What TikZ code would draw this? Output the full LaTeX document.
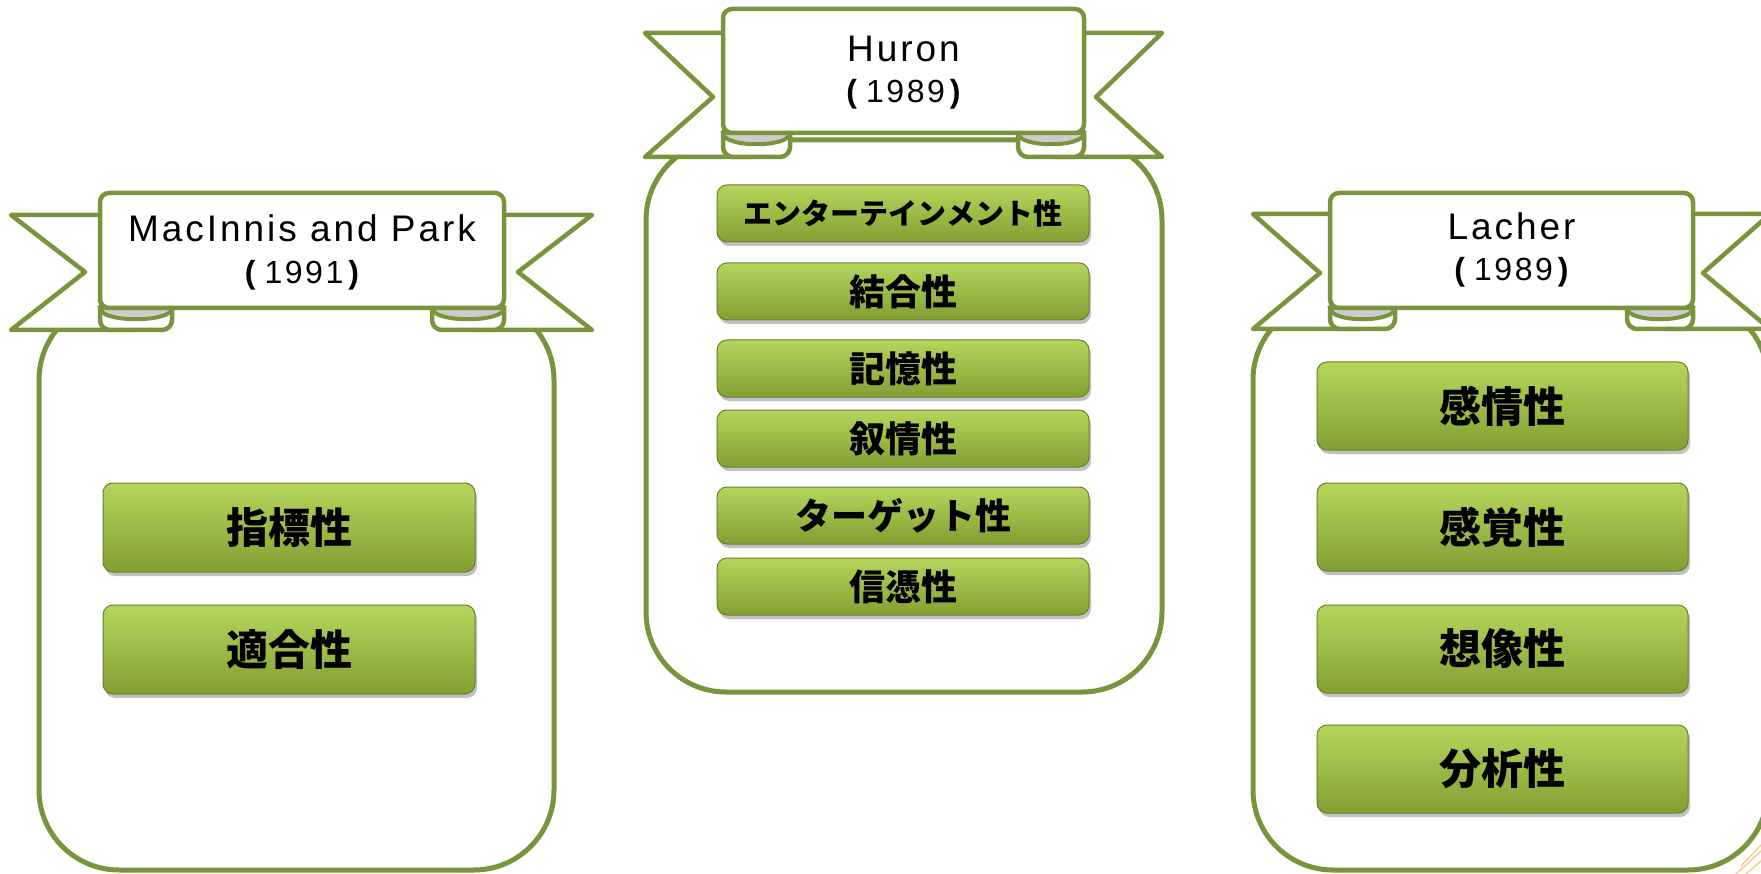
\documentclass[tikz,border=0pt]{standalone}
\usepackage{fontspec}
\setmainfont{Liberation Sans}[LetterSpace=8]
\newfontfamily\cjk{Noto Sans CJK JP}
\usetikzlibrary{shadows}
\definecolor{jargreen}{RGB}{120,148,60}
\definecolor{boxtop}{RGB}{180,214,92}
\definecolor{boxmid}{RGB}{158,194,72}
\definecolor{boxbot}{RGB}{130,160,50}
\definecolor{boxline}{RGB}{104,130,42}
\definecolor{curlgray}{RGB}{204,204,204}
\newcommand{\yr}[1]{{\bfseries(}\hspace{9pt}#1\hspace{5pt}{\bfseries)}}
\tikzset{
	jar/.style={draw=jargreen,line width=5pt,fill=white,rounded corners=80pt},
	tail/.style={draw=jargreen,line width=4.5pt,fill=white,line join=round},
	fold/.style={draw=jargreen,line width=4.5pt,fill=white,rounded corners=10pt},
	curl/.style={draw=jargreen,line width=4pt,fill=curlgray},
	banner/.style={draw=jargreen,line width=4.5pt,fill=white,rounded corners=9pt},
	authorline/.style={anchor=base,font=\fontsize{37}{37}\selectfont},
	yearline/.style={anchor=base,font=\fontsize{32}{32}\selectfont},
	trait/.style={rounded corners=10pt,draw=boxline,line width=1pt,
		top color=boxtop,middle color=boxmid,bottom color=boxbot,inner sep=0pt,
		minimum width=372pt,minimum height=88pt,
		font=\cjk\bfseries\fontsize{42}{42}\selectfont,
		drop shadow={shadow xshift=2pt,shadow yshift=-4pt,fill=black!40,opacity=.6}},
	small trait/.style={trait,minimum height=57pt,font=\cjk\bfseries\fontsize{36}{36}\selectfont}
}
\begin{document}
\begin{tikzpicture}[x=1pt,y=-1pt]
	\useasboundingbox (0,0) rectangle (1761,874);
	\clip (0,0) rectangle (1761,874);
	% jars
	\draw[jar] (39,300) rectangle (554,870);
	\draw[jar] (646,140) rectangle (1162,692);
	\draw[jar] (1253,300) rectangle (1768,870);
	% MacInnis and Park ribbon
	\draw[tail] (100,215) -- (11,215) -- (85,272) -- (11,330) -- (130,330) -- (130,215) -- cycle;
	\draw[tail] (504,215) -- (592,215) -- (518,272) -- (592,330) -- (474,330) -- (474,215) -- cycle;
	\draw[fold] (100,300) rectangle (172,330);
	\draw[fold] (432,300) rectangle (504,330);
	\draw[curl] (100,308) .. controls (100,323) and (172,323) .. (172,308) -- cycle;
	\draw[curl] (432,308) .. controls (432,323) and (504,323) .. (504,308) -- cycle;
	\draw[banner] (100,193) rectangle (504,308);
	\node[authorline](mt) at (302,242) {MacInnis and Park};
	\node[yearline](my) at (302,284) {\yr{1991}};
	% Huron ribbon
	\draw[tail] (723,33) -- (645,33) -- (713,97) -- (645,157) -- (753,157) -- (753,33) -- cycle;
	\draw[tail] (1084,33) -- (1162,33) -- (1096,97) -- (1162,157) -- (1054,157) -- (1054,33) -- cycle;
	\draw[fold] (723,125) rectangle (790,157);
	\draw[fold] (1018,125) rectangle (1084,157);
	\draw[curl] (723,133) .. controls (723,148) and (790,148) .. (790,133) -- cycle;
	\draw[curl] (1018,133) .. controls (1018,148) and (1084,148) .. (1084,133) -- cycle;
	\draw[banner] (723,9) rectangle (1084,133);
	\node[authorline](ht) at (903.5,62) {Huron};
	\node[yearline](hy) at (903.5,103) {\yr{1989}};
	% Lacher ribbon
	\draw[tail] (1330,214) -- (1253,214) -- (1320,273) -- (1253,329) -- (1360,329) -- (1360,214) -- cycle;
	\draw[tail] (1693,214) -- (1770,214) -- (1703,273) -- (1770,329) -- (1663,329) -- (1663,214) -- cycle;
	\draw[fold] (1330,300) rectangle (1395,329);
	\draw[fold] (1627,300) rectangle (1693,329);
	\draw[curl] (1330,308) .. controls (1330,323) and (1395,323) .. (1395,308) -- cycle;
	\draw[curl] (1627,308) .. controls (1627,323) and (1693,323) .. (1693,308) -- cycle;
	\draw[banner] (1330,193) rectangle (1693,308);
	\node[authorline](lt) at (1511.5,240) {Lacher};
	\node[yearline](ly) at (1511.5,281) {\yr{1989}};
	% traits
	\node[trait,minimum height=89pt](m1) at (289,527.5) {指標性};
	\node[trait,minimum height=89pt](m2) at (289,649.5) {適合性};
	\node[small trait,font=\cjk\bfseries\fontsize{29}{29}\selectfont](h1) at (903,213.5) {エンターテインメント性};
	\node[small trait](h2) at (903,291.5) {結合性};
	\node[small trait](h3) at (903,368.5) {記憶性};
	\node[small trait](h4) at (903,438.5) {叙情性};
	\node[small trait](h5) at (903,515.5) {ターゲット性};
	\node[small trait](h6) at (903,586.5) {信憑性};
	\node[trait,minimum width=371pt](l1) at (1502.5,406) {感情性};
	\node[trait,minimum width=371pt](l2) at (1502.5,527) {感覚性};
	\node[trait,minimum width=371pt](l3) at (1502.5,649) {想像性};
	\node[trait,minimum width=371pt](l4) at (1502.5,769) {分析性};
	% corner of the page behind
	\draw[orange!70,line width=1.5pt,opacity=.6] (1736,874) -- (1761,851) (1746,874) -- (1761,861) (1741,866) -- (1761,845);
\end{tikzpicture}
\end{document}
